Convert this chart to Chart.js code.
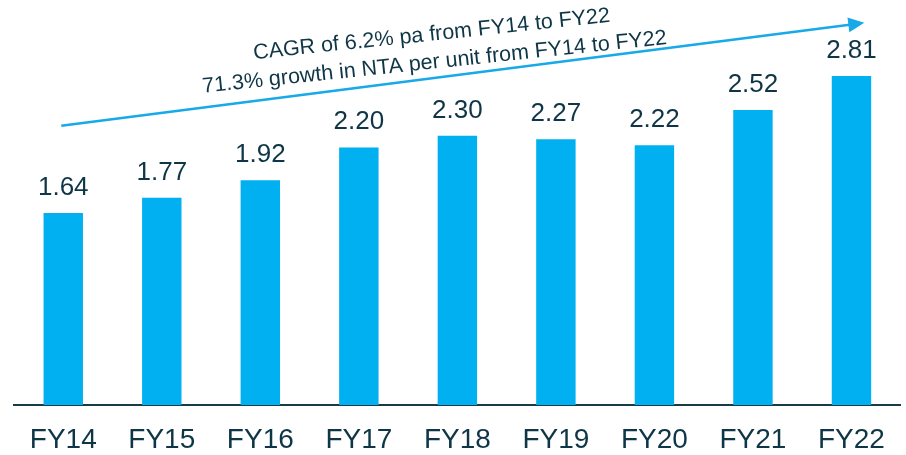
<!DOCTYPE html>
<html>
<head>
<meta charset="utf-8">
<title>NTA per unit</title>
<script src="https://cdn.jsdelivr.net/npm/chart.js@4/dist/chart.umd.min.js"></script>
<style>
    html, body { margin: 0; padding: 0; background: #ffffff; }
    #wrap { width: 906px; height: 455px; position: relative; }
</style>
</head>
<body>
<div id="wrap"><canvas id="ntaChart"></canvas></div>
<script>
// NTA per unit, FY14 - FY22

const years = ['FY14', 'FY15', 'FY16', 'FY17', 'FY18', 'FY19', 'FY20', 'FY21', 'FY22'];
const ntaPerUnit = [1.64, 1.77, 1.92, 2.20, 2.30, 2.27, 2.22, 2.52, 2.81];
const noteLines = ['CAGR of 6.2% pa from FY14 to FY22', '71.3% growth in NTA per unit from FY14 to FY22'];

// trend arrow, in axis units (category index, value)
const arrowFrom = [-0.02, 2.385];
const arrowTo = [8.13, 3.265];
const notePos = [3.76, 2.995];
const noteAngle = -6; // degrees, text is a little flatter than the arrow

const BAR_BLUE = '#00b0f0';
const ARROW_BLUE = '#17a9e8';
const TEXT_DARK = '#0f3646';
const FONT = '"Liberation Sans", Arial, sans-serif';

// value labels above bars
const valueLabels = {
    id: 'valueLabels',
    afterDatasetsDraw(chart) {
        const ctx = chart.ctx;
        const meta = chart.getDatasetMeta(0);
        ctx.save();
        ctx.fillStyle = TEXT_DARK;
        ctx.font = '26px ' + FONT;
        ctx.textAlign = 'center';
        ctx.textBaseline = 'alphabetic';
        meta.data.forEach((bar, i) => {
            ctx.fillText(ntaPerUnit[i].toFixed(2), bar.x, bar.y - 18);
        });
        ctx.restore();
    }
};

// growth arrow with rotated note
const trendArrow = {
    id: 'trendArrow',
    afterDraw(chart) {
        const ctx = chart.ctx;
        const xs = chart.scales.x;
        const ys = chart.scales.y;
        const x1 = xs.getPixelForValue(arrowFrom[0]);
        const y1 = ys.getPixelForValue(arrowFrom[1]);
        const x2 = xs.getPixelForValue(arrowTo[0]);
        const y2 = ys.getPixelForValue(arrowTo[1]);
        const ang = Math.atan2(y2 - y1, x2 - x1);
        const head = 16;

        ctx.save();
        ctx.strokeStyle = ARROW_BLUE;
        ctx.fillStyle = ARROW_BLUE;
        ctx.lineWidth = 2.5;
        ctx.beginPath();
        ctx.moveTo(x1, y1);
        ctx.lineTo(x2 - Math.cos(ang) * head * 0.8, y2 - Math.sin(ang) * head * 0.8);
        ctx.stroke();

        ctx.translate(x2, y2);
        ctx.rotate(ang);
        ctx.beginPath();
        ctx.moveTo(0, 0);
        ctx.lineTo(-head, -7.5);
        ctx.lineTo(-head, 7.5);
        ctx.closePath();
        ctx.fill();
        ctx.restore();

        // note text
        const tx = xs.getPixelForValue(notePos[0]);
        const ty = ys.getPixelForValue(notePos[1]);
        ctx.save();
        ctx.translate(tx, ty);
        ctx.rotate(noteAngle * Math.PI / 180);
        ctx.fillStyle = TEXT_DARK;
        ctx.font = '21.5px ' + FONT;
        ctx.textAlign = 'center';
        ctx.textBaseline = 'alphabetic';
        ctx.fillText(noteLines[0], 0, -14);
        ctx.fillText(noteLines[1], 0, 14);
        ctx.restore();
    }
};

const ctx = document.getElementById('ntaChart').getContext('2d');

new Chart(ctx, {
    type: 'bar',
    data: {
        labels: years,
        datasets: [{
            data: ntaPerUnit,
            backgroundColor: BAR_BLUE,
            borderWidth: 0,
            barPercentage: 0.4,
            categoryPercentage: 1.0
        }]
    },
    options: {
        responsive: true,
        maintainAspectRatio: false,
        animation: false,
        layout: {
            padding: { left: 14, right: 1, top: 0, bottom: 0 }
        },
        plugins: {
            legend: { display: false },
            tooltip: { enabled: false }
        },
        scales: {
            x: {
                grid: { display: false, drawTicks: false },
                border: { display: true, color: '#1a3a48', width: 2 },
                ticks: {
                    color: TEXT_DARK,
                    padding: 21,
                    maxRotation: 0,
                    font: { family: FONT, size: 28, lineHeight: 1.0 }
                },
                afterFit(axis) {
                    axis.height = 50;
                }
            },
            y: {
                display: false,
                min: 0,
                max: 3.46
            }
        }
    },
    plugins: [valueLabels, trendArrow]
});
</script>
</body>
</html>
